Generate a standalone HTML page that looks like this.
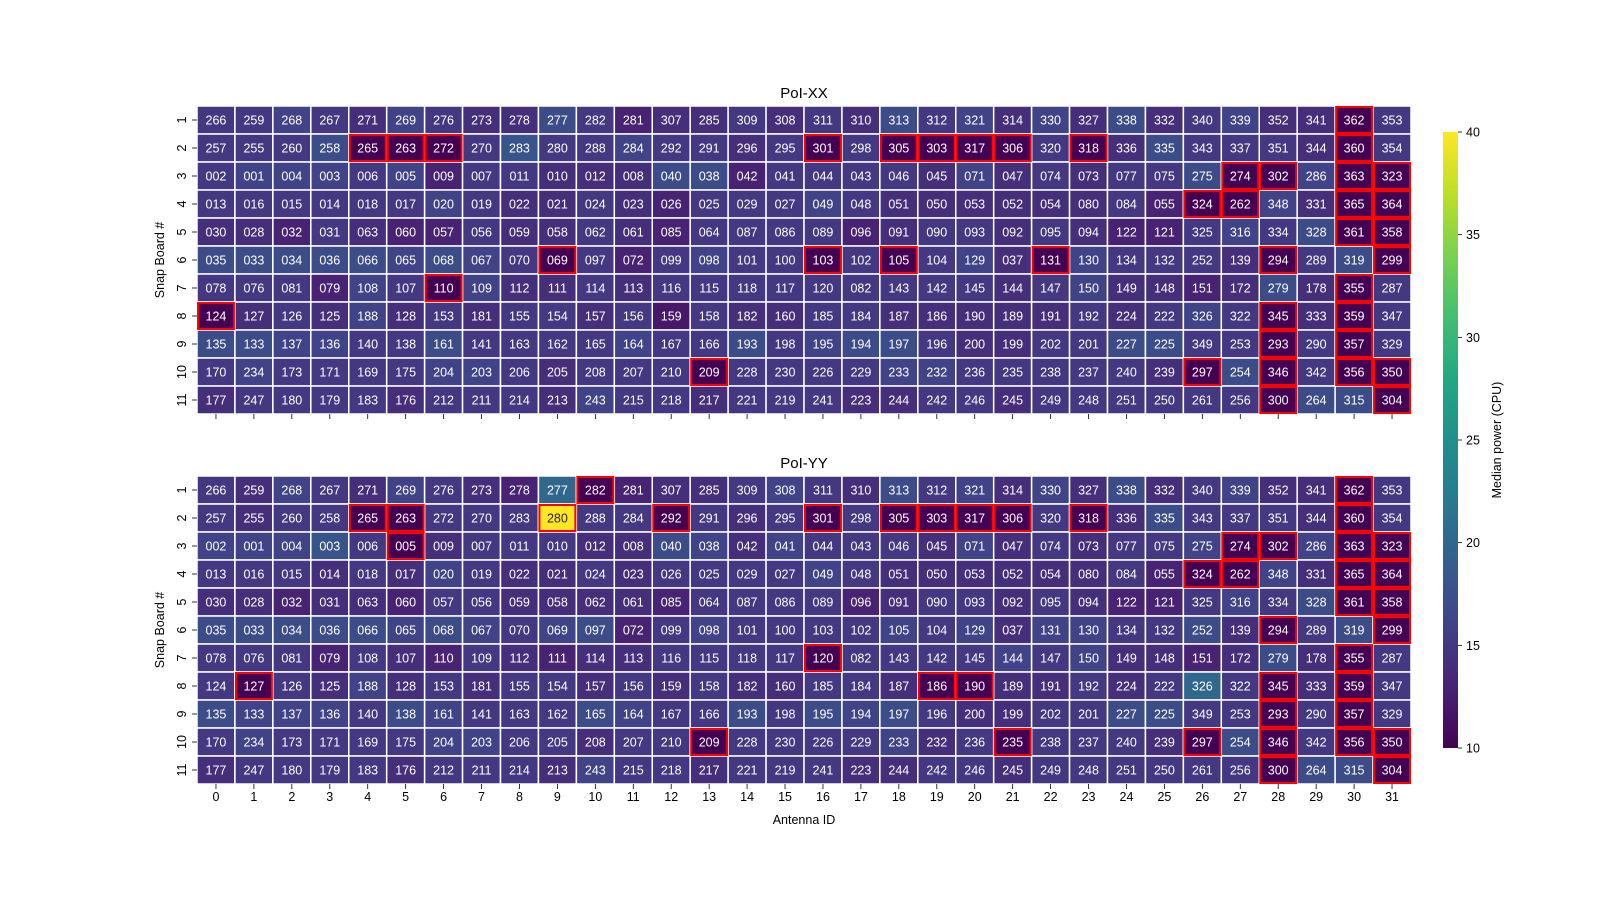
<!DOCTYPE html>
<html><head><meta charset="utf-8"><style>
body{margin:0;background:#fff;}
svg{display:block;font-family:"Liberation Sans","DejaVu Sans",sans-serif;}
</style></head><body>
<svg id="chart" width="1600" height="900"></svg>
<script>
const antennas=[...Array(32).keys()];
const boards=[1,2,3,4,5,6,7,8,9,10,11];
const cbTicks=[10,15,20,25,30,35,40];
const labels=[
[266,259,268,267,271,269,276,273,278,277,282,281,307,285,309,308,311,310,313,312,321,314,330,327,338,332,340,339,352,341,362,353],
[257,255,260,258,265,263,272,270,283,280,288,284,292,291,296,295,301,298,305,303,317,306,320,318,336,335,343,337,351,344,360,354],
[2,1,4,3,6,5,9,7,11,10,12,8,40,38,42,41,44,43,46,45,71,47,74,73,77,75,275,274,302,286,363,323],
[13,16,15,14,18,17,20,19,22,21,24,23,26,25,29,27,49,48,51,50,53,52,54,80,84,55,324,262,348,331,365,364],
[30,28,32,31,63,60,57,56,59,58,62,61,85,64,87,86,89,96,91,90,93,92,95,94,122,121,325,316,334,328,361,358],
[35,33,34,36,66,65,68,67,70,69,97,72,99,98,101,100,103,102,105,104,129,37,131,130,134,132,252,139,294,289,319,299],
[78,76,81,79,108,107,110,109,112,111,114,113,116,115,118,117,120,82,143,142,145,144,147,150,149,148,151,172,279,178,355,287],
[124,127,126,125,188,128,153,181,155,154,157,156,159,158,182,160,185,184,187,186,190,189,191,192,224,222,326,322,345,333,359,347],
[135,133,137,136,140,138,161,141,163,162,165,164,167,166,193,198,195,194,197,196,200,199,202,201,227,225,349,253,293,290,357,329],
[170,234,173,171,169,175,204,203,206,205,208,207,210,209,228,230,226,229,233,232,236,235,238,237,240,239,297,254,346,342,356,350],
[177,247,180,179,183,176,212,211,214,213,243,215,218,217,221,219,241,223,244,242,246,245,249,248,251,250,261,256,300,264,315,304]];
const xxValues=[
[15,15,16,15,14,16,15,14,14,17,15,13,14,14,15,14,15,14,17,15,16,14,16,14,17,14,15,16,14,14,10,15],
[15,15,15,17,10,10,10,15,18,15,15,16,15,15,14,15,10,15,10,10,10,10,15,10,14,17,15,15,15,14,10,15],
[15,16,16,16,15,16,13,15,15,14,14,14,17,17,13,15,15,15,15,14,16,14,15,14,15,15,17,10,10,16,10,10],
[15,15,15,15,15,15,16,15,14,14,15,14,13,15,15,15,16,15,14,14,14,14,14,14,15,13,10,10,16,14,10,10],
[14,14,13,15,14,13,13,15,14,14,15,14,13,15,15,15,15,13,14,15,15,14,15,14,13,13,15,16,15,17,10,10],
[17,17,17,17,17,16,17,16,15,10,15,13,15,16,15,15,10,15,10,15,16,14,10,16,15,15,15,14,10,15,17,10],
[15,15,15,13,16,15,10,16,14,14,15,14,15,15,15,15,15,15,15,15,15,14,15,16,14,14,13,14,17,14,10,15],
[10,14,15,14,16,14,15,14,15,15,14,15,12,15,14,14,15,15,14,14,14,14,14,15,14,15,16,15,10,14,10,15],
[17,17,16,16,15,15,17,15,15,15,15,16,15,15,17,15,16,17,17,15,14,14,15,15,17,17,15,15,10,15,10,15],
[15,16,15,15,15,15,16,16,15,14,15,15,15,10,15,15,15,15,16,16,15,15,15,15,15,14,10,17,10,15,10,10],
[14,15,15,15,15,14,15,15,15,14,16,15,15,14,15,15,15,14,14,15,15,14,15,15,15,15,15,15,10,17,17,10]];
const yyValues=[
[15,14,16,15,14,16,15,14,13,20,10,13,14,14,15,16,15,14,17,15,16,14,16,14,17,14,15,16,14,14,10,15],
[15,14,15,15,10,10,15,15,15,40,15,15,10,15,14,15,10,15,10,10,10,10,15,10,14,17,15,15,15,14,10,15],
[16,16,16,18,15,10,14,15,15,15,14,14,17,16,14,16,15,15,15,14,16,14,15,14,15,15,16,10,10,16,10,10],
[15,15,15,14,15,14,16,15,14,14,15,14,15,15,15,15,16,15,14,14,14,14,14,14,15,13,10,10,16,14,10,10],
[14,14,13,14,14,13,15,15,14,14,14,14,13,15,15,15,15,13,14,15,15,14,15,14,13,13,15,16,15,17,10,10],
[17,17,17,17,17,16,17,16,15,16,17,13,15,16,15,15,15,15,16,15,16,14,16,16,15,15,17,14,10,15,17,10],
[15,15,15,13,15,14,13,15,14,13,14,14,15,15,15,15,10,15,15,15,15,16,15,16,14,14,13,14,17,14,10,15],
[15,10,15,14,16,14,15,14,15,15,14,15,14,15,14,14,15,15,14,10,10,14,14,15,14,15,20,15,10,14,10,15],
[17,16,16,16,15,17,16,15,15,15,17,16,15,15,17,15,17,16,17,15,14,14,15,15,17,17,15,15,10,15,10,15],
[15,16,15,15,15,15,16,16,15,15,14,15,15,10,15,15,15,15,16,14,15,10,15,15,15,14,10,17,10,15,10,10],
[14,15,15,15,15,14,15,15,15,14,16,15,15,14,15,15,15,14,14,15,15,14,15,15,15,15,15,15,10,17,17,10]];
const xxFlagged=[[0,30],[1,4],[1,5],[1,6],[1,16],[1,18],[1,19],[1,20],[1,21],[1,23],[1,30],[2,27],[2,28],[2,30],[2,31],[3,26],[3,27],[3,30],[3,31],[4,30],[4,31],[5,9],[5,16],[5,18],[5,22],[5,28],[5,31],[6,6],[6,30],[7,0],[7,28],[7,30],[8,28],[8,30],[9,13],[9,26],[9,28],[9,30],[9,31],[10,28],[10,31]];
const yyFlagged=[[0,10],[0,30],[1,4],[1,5],[1,9],[1,12],[1,16],[1,18],[1,19],[1,20],[1,21],[1,23],[1,30],[2,5],[2,27],[2,28],[2,30],[2,31],[3,26],[3,27],[3,30],[3,31],[4,30],[4,31],[5,28],[5,31],[6,16],[6,30],[7,1],[7,19],[7,20],[7,28],[7,30],[8,28],[8,30],[9,13],[9,21],[9,26],[9,28],[9,30],[9,31],[10,28],[10,31]];

const VIR=[[68,1,84],[72,35,116],[64,67,135],[52,94,141],[41,120,142],[32,144,141],[34,167,132],[68,190,112],[121,209,81],[189,223,38],[253,231,37]];
function viridis(t){t=Math.max(0,Math.min(1,t));const p=t*10,i=Math.min(9,Math.floor(p)),f=p-i;const a=VIR[i],b=VIR[i+1];return `rgb(${a.map((v,k)=>Math.round(v+(b[k]-v)*f)).join(',')})`;}
const vmin=10,vmax=40;
const NS='http://www.w3.org/2000/svg';
const svg=document.getElementById('chart');
function el(tag,attrs,parent){const e=document.createElementNS(NS,tag);for(const k in attrs)e.setAttribute(k,attrs[k]);(parent||svg).appendChild(e);return e;}
const X0=197,X1=1411,CW=(X1-X0)/32;
function xPos(i){return X0+i*CW;}
function drawPanel(top,title,vals,flags,showX,key){
  const CH=(308)/11;
  const g=el('g',{});
  
  
  const yPos=r=>top+r*CH;
  const t=el('text',{x:804,y:top-8,'text-anchor':'middle','font-size':15,fill:'#000'},g);
  t.textContent=title;
  
  
  for(let r=0;r<boards.length;r++){for(let c=0;c<antennas.length;c++){
    const v=vals[r][c];
    const rc=el('rect',{x:xPos(c),y:yPos(r),width:CW,height:CH,fill:viridis((v-vmin)/(vmax-vmin)),stroke:'#fff','stroke-width':1.5},g);
    
    
    const tx=el('text',{x:xPos(c)+CW/2,y:yPos(r)+CH/2+4.5,'text-anchor':'middle','font-size':12.5,fill:v>30?'#262626':'#fff'},g);
    tx.textContent=String(labels[r][c]).padStart(3,'0');
    
    
  }}
  for(const [r,c] of flags){
    const b=el('rect',{x:xPos(c)+1,y:yPos(r)+1,width:CW-2,height:CH-2,fill:'none',stroke:'#f00','stroke-width':2},g);
    
    
  }
  for(let r=0;r<boards.length;r++){
    const y=yPos(r)+CH/2;
    el('line',{x1:X0-5,x2:X0,y1:y,y2:y,stroke:'#000','stroke-width':0.8},g);
    const l=el('text',{x:0,y:0,'text-anchor':'middle','font-size':12.5,transform:`translate(${X0-11},${y}) rotate(-90)`},g);
    l.textContent=boards[r];
    
    
  }
  for(let c=0;c<antennas.length;c++){
    const x=xPos(c)+CW/2;
    el('line',{x1:x,x2:x,y1:top+308,y2:top+313,stroke:'#000','stroke-width':0.8},g);
    if(showX){const l=el('text',{x:x,y:top+325,'text-anchor':'middle','font-size':12.5},g);l.textContent=antennas[c];
      
      }
  }
  const yl=el('text',{x:0,y:0,'text-anchor':'middle','font-size':12.5,transform:`translate(164,${top+154}) rotate(-90)`},g);
  yl.textContent='Snap Board #';
  
  
}
drawPanel(106,'PoI-XX',xxValues,xxFlagged,false,'poi-xx');
drawPanel(476,'PoI-YY',yyValues,yyFlagged,true,'poi-yy');
const xt=el('text',{x:804,y:824,'text-anchor':'middle','font-size':12.5});
xt.textContent='Antenna ID';


// colorbar
const CB0=132,CB1=748,CBX=1443,CBW=15;
const cb=el('g',{});


const defs=el('defs',{},cb);
const lg=el('linearGradient',{id:'vg',x1:0,y1:1,x2:0,y2:0},defs);
for(let i=0;i<=10;i++)el('stop',{offset:i/10,'stop-color':viridis(i/10)},lg);
el('rect',{x:CBX,y:CB0,width:CBW,height:CB1-CB0,fill:'url(#vg)'},cb);
const cbY=v=>CB1-(v-vmin)/(vmax-vmin)*(CB1-CB0);
for(const v of cbTicks){
  el('line',{x1:CBX+CBW,x2:CBX+CBW+4,y1:cbY(v),y2:cbY(v),stroke:'#000','stroke-width':0.8},cb);
  const t=el('text',{x:CBX+CBW+8,y:cbY(v)+4.5,'font-size':12.5},cb);t.textContent=v;
  
  
}
const cl=el('text',{x:0,y:0,'text-anchor':'middle','font-size':12.5,transform:`translate(1501,${(CB0+CB1)/2}) rotate(-90)`},cb);
cl.textContent='Median power (CPU)';


</script>
</body></html>
